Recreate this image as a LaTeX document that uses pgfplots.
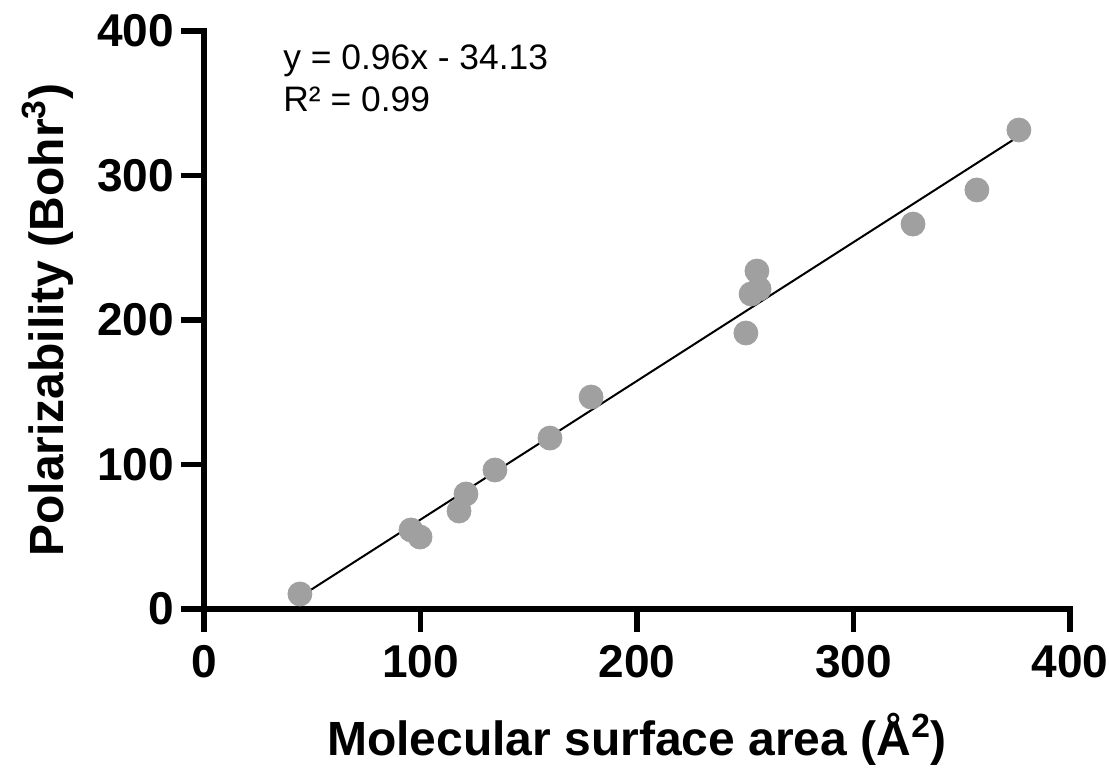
\documentclass[border=0pt]{standalone}
\usepackage{fontspec}
\setmainfont{Liberation Sans}
\usepackage{pgfplots}
\pgfplotsset{compat=1.18}
\definecolor{markgray}{RGB}{160,160,160}
\begin{document}
\begin{tikzpicture}
\path[use as bounding box] (-102pt,-81.5pt) rectangle (452.5pt,304.5pt);
\begin{axis}[
  scale only axis,
  width=433pt, height=289pt,
  xmin=0, xmax=400, ymin=0, ymax=400,
  axis x line*=bottom, axis y line*=left,
  axis line style={line width=2.6pt, line cap=rect},
  xtick={0,100,200,300,400}, ytick={0,100,200,300,400},
  tick style={line width=2.6pt, black},
  tick align=outside, major tick length=11.5pt,
  tick label style={font=\fontsize{23}{26}\selectfont\bfseries},
  /pgf/number format/assume math mode=true,
  xticklabel style={yshift=-3pt},
  yticklabel style={xshift=0pt},
  xlabel={\fontsize{24}{28}\selectfont\bfseries Molecular surface area (Å\textsuperscript{2})},
  ylabel={\fontsize{24}{28}\selectfont\bfseries Polarizability (Bohr\textsuperscript{3})},
  xlabel style={yshift=-11pt},
  ylabel style={yshift=5pt},
  clip=false,
]
\addplot[only marks, mark=*, mark size=6pt, mark options={fill=markgray, draw=markgray}] coordinates {
(44.3,10.4) (95.6,54.7) (99.8,49.8) (117.8,67.8) (121.0,79.6) (134.4,96.2)
(159.8,118.3) (178.8,146.7) (250.3,191.0) (252.7,218.0) (256.4,221.5)
(255.4,233.9) (327.5,266.4) (357.0,290.0) (376.4,331.5)
};
\addplot[black, line width=1pt] coordinates {(44.3,8.4) (376.4,327.2)};
\node[anchor=north west, align=left, font=\fontsize{17.7}{21}\selectfont, inner sep=0pt] at (axis cs:36.5,391) {y = 0.96x - 34.13\\R² = 0.99};
\end{axis}
\end{tikzpicture}
\end{document}
